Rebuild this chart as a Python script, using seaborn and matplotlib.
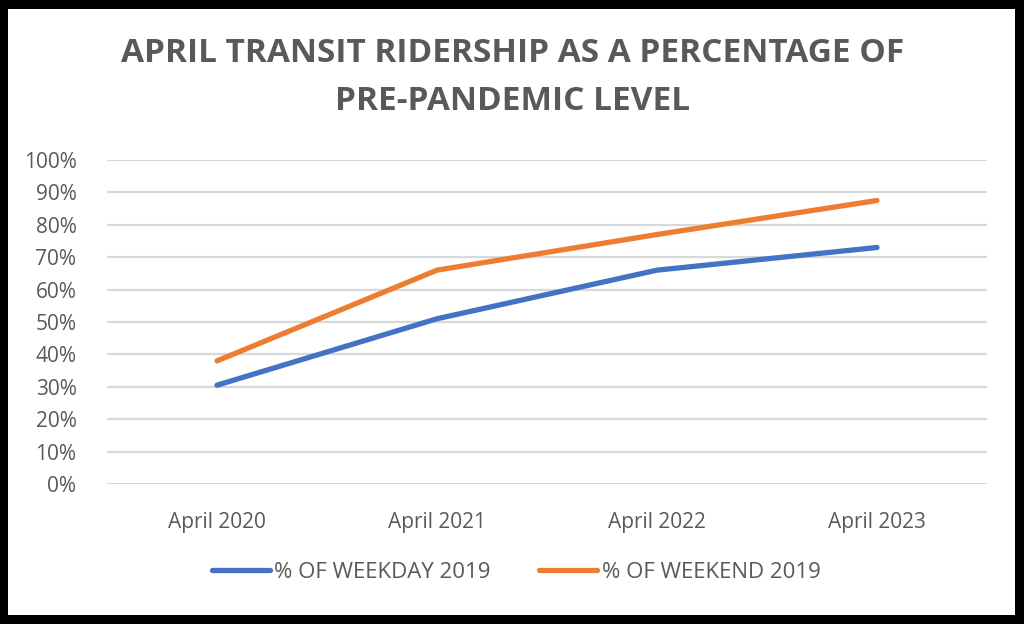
import matplotlib.pyplot as plt
import numpy as np
import pandas as pd
import seaborn as sns
from matplotlib.patches import Rectangle
from matplotlib.ticker import PercentFormatter

# chart data
periods = ["April 2020", "April 2021", "April 2022", "April 2023"]
weekday_pct = [0.305, 0.51, 0.66, 0.73]
weekend_pct = [0.38, 0.66, 0.77, 0.875]
series_names = ["% OF WEEKDAY 2019", "% OF WEEKEND 2019"]
y_ticks = [0.0, 0.1, 0.2, 0.3, 0.4, 0.5, 0.6, 0.7, 0.8, 0.9, 1.0]

title_lines = ["APRIL TRANSIT RIDERSHIP AS A PERCENTAGE OF", "PRE-PANDEMIC LEVEL"]

df = pd.DataFrame({
    "period": periods * 2,
    "value": weekday_pct + weekend_pct,
    "series": [series_names[0]] * len(periods) + [series_names[1]] * len(periods),
})

sns.set_theme(style="white")
plt.rcParams['font.family'] = ['Open Sans', 'DejaVu Sans']

text_grey = "#595959"
palette = {series_names[0]: "#4472C4", series_names[1]: "#ED7D31"}

fig = plt.figure(figsize=(10.24, 6.24), dpi=100)
fig.patch.set_facecolor("black")
# white card inside the black frame
fig.patches.append(Rectangle((8 / 1024, 9 / 624), 1007 / 1024, 606 / 624,
                             transform=fig.transFigure, facecolor="white",
                             edgecolor="none", zorder=-1))

ax = fig.add_axes([107 / 1024, 1 - 484 / 624, 880 / 1024, 324 / 624])
ax.set_facecolor("white")

sns.lineplot(data=df, x="period", y="value", hue="series", palette=palette,
             linewidth=3.8, sort=False, ax=ax, legend=False,
             solid_capstyle="round")

ax.set_xlim(-0.5, len(periods) - 0.5)
ax.set_ylim(0, 1)
ax.set_yticks(y_ticks)
ax.yaxis.set_major_formatter(PercentFormatter(1.0, decimals=0))
ax.grid(axis="y", color="#D9D9D9", linewidth=1.6)
ax.set_axisbelow(True)
for s in ax.spines.values():
    s.set_visible(False)
ax.tick_params(axis="both", length=0, labelsize=15, labelcolor=text_grey)
ax.tick_params(axis="y", pad=22)
ax.tick_params(axis="x", pad=20)
ax.set_xlabel("")
ax.set_ylabel("")

# title
fig.text(0.501, 1 - 53 / 624, title_lines[0], ha="center", va="center",
         fontsize=24, fontweight="bold", color=text_grey)
fig.text(0.501, 1 - 102 / 624, title_lines[1], ha="center", va="center",
         fontsize=24, fontweight="bold", color=text_grey)

# legend
handles = [plt.Line2D([], [], color=palette[n], linewidth=3.8, solid_capstyle="round")
           for n in series_names]
leg = fig.legend(handles, series_names, loc="center", ncol=2,
                 bbox_to_anchor=(0.504, 1 - 572 / 624), frameon=False,
                 fontsize=16, handlelength=2.6, handletextpad=0.2,
                 columnspacing=2.2)
for t in leg.get_texts():
    t.set_color(text_grey)

fig.savefig("out.png", dpi=100, facecolor=fig.get_facecolor())
